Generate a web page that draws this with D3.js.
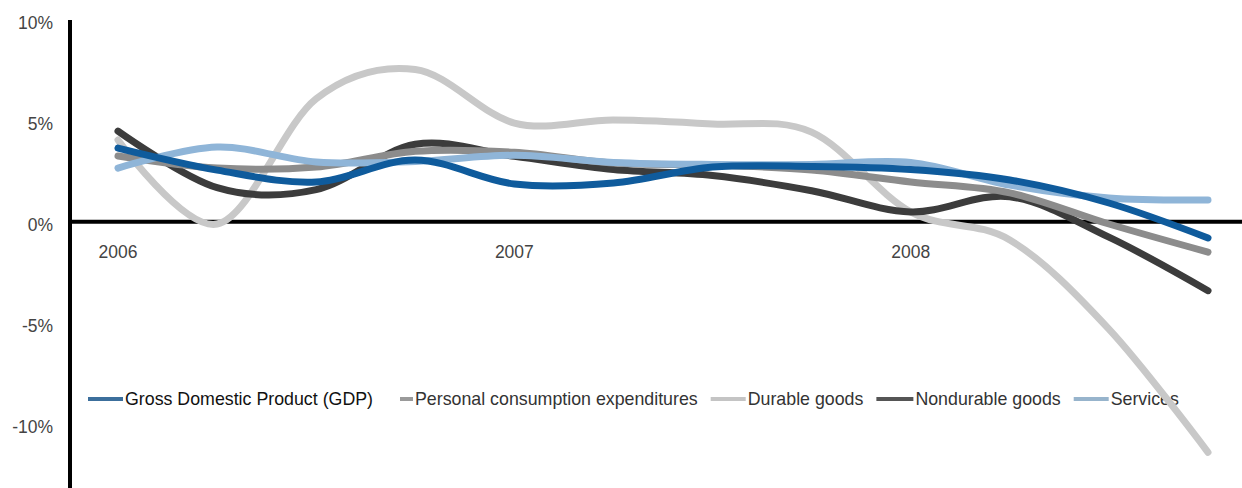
<!DOCTYPE html>
<html>
<head>
<meta charset="utf-8">
<script src="https://cdn.jsdelivr.net/npm/d3@7"></script>
<style>
  body { margin: 0; background: #fff; }
  svg { display: block; font-family: "Liberation Sans", Arial, Helvetica, sans-serif; }
</style>
</head>
<body>
<div id="line-chart"></div>
<script>
// quarterly % change, 2006 Q1 .. 2008 Q4
var quarters = ["2006 Q1", "2006 Q2", "2006 Q3", "2006 Q4",
                "2007 Q1", "2007 Q2", "2007 Q3", "2007 Q4",
                "2008 Q1", "2008 Q2", "2008 Q3", "2008 Q4"];
var yearLabels = ["2006", "2007", "2008"];
var yTicks = [10, 5, 0, -5, -10];

var gdp        = [3.66, 2.57, 1.98, 3.07, 1.88, 1.93, 2.72, 2.75, 2.6, 2.08, 0.94, -0.79];
var pce        = [3.27, 2.67, 2.72, 3.5, 3.45, 2.92, 2.82, 2.57, 1.98, 1.44, -0.1, -1.49];
var durable    = [4.06, -0.1, 6.1, 7.55, 4.9, 5.05, 4.85, 4.45, 0.5, -0.89, -5.3, -11.4];
var nondurable = [4.5, 1.7, 1.6, 3.85, 3.25, 2.6, 2.3, 1.55, 0.5, 1.25, -0.75, -3.4];
var services   = [2.67, 3.71, 2.97, 3.0, 3.3, 2.95, 2.85, 2.85, 2.95, 1.83, 1.19, 1.09];

var seriesNames = ["Gross Domestic Product (GDP)", "Personal consumption expenditures",
                   "Durable goods", "Nondurable goods", "Services"];

var width = 1242, height = 488;

var svg = d3.select("#line-chart")
  .append("svg")
    .attr("width", width)
    .attr("height", height);

var x = d3.scalePoint()
  .domain(quarters)
  .range([118, 1208]);

var y = d3.scaleLinear()
  .domain([-10, 10])
  .range([424, 20]);

var series = [
  {name: seriesNames[0], values: gdp,        color: "#0f5b9c", legend: "#3c6f9c", mark: 35},
  {name: seriesNames[1], values: pce,        color: "#8c8c8c", legend: "#9a9a9a", mark: 13},
  {name: seriesNames[2], values: durable,    color: "#c8c8c8", legend: "#c4c4c4", mark: 35},
  {name: seriesNames[3], values: nondurable, color: "#3c3c3c", legend: "#555555", mark: 37},
  {name: seriesNames[4], values: services,   color: "#8fb5d8", legend: "#97b4cc", mark: 35}
];

// y tick labels
svg.append("g")
  .selectAll("text")
  .data(yTicks)
  .join("text")
    .attr("x", 53)
    .attr("y", function(d) { return y(d) + 2.5; })
    .attr("dy", "0.35em")
    .attr("text-anchor", "end")
    .attr("font-size", 17.5)
    .attr("fill", "#444")
    .text(function(d) { return d + "%"; });

// year labels under the zero line
svg.append("g")
  .selectAll("text")
  .data(yearLabels)
  .join("text")
    .attr("x", function(d) { return x(d + " Q1"); })
    .attr("y", 252)
    .attr("dy", "0.35em")
    .attr("text-anchor", "middle")
    .attr("font-size", 17.5)
    .attr("fill", "#444")
    .text(function(d) { return d; });

// legend
var legend = svg.append("g");
var lx = 88, ly = 399;
series.forEach(function(s, i) {
  legend.append("line")
    .attr("x1", lx).attr("x2", lx + s.mark)
    .attr("y1", ly).attr("y2", ly)
    .attr("stroke", s.legend)
    .attr("stroke-width", 4);
  var t = legend.append("text")
    .attr("x", lx + s.mark + 2)
    .attr("y", ly)
    .attr("dy", "0.35em")
    .attr("font-size", 17.8)
    .attr("fill", i === 0 ? "#111" : "#333")
    .text(s.name);
  lx = lx + s.mark + 2 + t.node().getComputedTextLength() + (i === 0 ? 27 : 13);
});

// axes
svg.append("line")
  .attr("x1", 70).attr("x2", 70)
  .attr("y1", y(10)).attr("y2", height)
  .attr("stroke", "#000")
  .attr("stroke-width", 4);

svg.append("line")
  .attr("x1", 70).attr("x2", width)
  .attr("y1", y(0) - 0.3).attr("y2", y(0) - 0.3)
  .attr("stroke", "#000")
  .attr("stroke-width", 4);

// the lines
var line = d3.line()
  .x(function(d, i) { return x(quarters[i]); })
  .y(function(d) { return y(d); })
  .curve(d3.curveCatmullRom.alpha(0));

var order = [2, 3, 1, 4, 0];
order.forEach(function(k) {
  svg.append("path")
    .datum(series[k].values)
    .attr("fill", "none")
    .attr("stroke", series[k].color)
    .attr("stroke-width", 7)
    .attr("stroke-linecap", "round")
    .attr("stroke-linejoin", "round")
    .attr("d", line);
});
</script>
</body>
</html>
